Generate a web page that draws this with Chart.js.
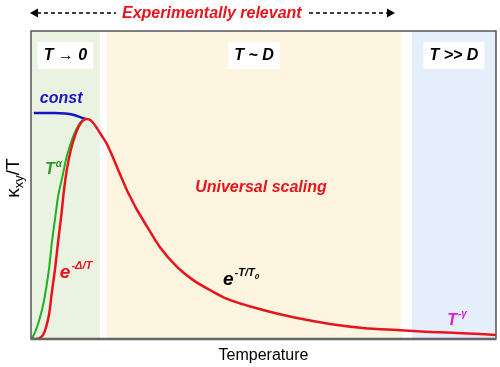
<!DOCTYPE html>
<html><head><meta charset="utf-8">
<script src="https://cdn.jsdelivr.net/npm/chart.js@4/dist/chart.umd.min.js"></script>
<style>html,body{margin:0;padding:0;background:#fff}canvas{display:block}</style>
</head><body>
<canvas id="c" width="500" height="367"></canvas>
<script>
// ---- data (x = temperature, y = kappa_xy/T, arbitrary units 0..100) ----
const regionNames = ["T \u2192 0", "T ~ D", "T >> D"];
const regionStart = [0, 16.3, 81.9];
const regionEnd   = [14.8, 79.6, 100];

const redT = [0,1.1,1.9,2.6,3.2,3.9,4.5,5.2,5.8,6.5,7.1,7.7,8.6,9.5,10.3,11.1,11.8,12.5,13.3,14.2,15.2,16.3,17.4,18.5,19.6,20.6,21.7,22.8,25.0,27.7,31.4,34.8,38.5,42.2,49.9,57.2,64.3,71.4,78.7,85.8,92.9,100];
const redK = [0,0,0.3,1.3,3.6,8.1,15.3,23.1,31.2,39.9,48.4,54.9,61.6,66.2,69.1,70.8,71.4,71.3,70.3,68.4,66.0,63.4,59.7,55.8,51.9,48.4,45.1,41.9,36.4,29.9,23.4,19.2,15.9,13.0,9.4,6.8,4.9,3.6,2.9,2.3,1.9,1.3];

const greenT = [0,0.6,1.3,1.9,2.6,3.2,3.9,4.5,5.2,5.8,6.7,7.5,8.4,9.3,10.2,11.0,11.8];
const greenK = [0,1.3,3.9,6.8,11.0,15.9,23.1,31.5,39.3,46.1,52.3,58.1,62.9,66.6,69.3,70.9,71.4];

const blueT = [0.6,3.0,5.2,7.3,8.8,10.1,11.0,11.8];
const blueK = [73.4,73.4,73.4,73.2,72.9,72.3,71.8,71.4];

const pts = (xs, ys) => xs.map((x, i) => ({x, y: ys[i]}));

const FONT = '"Liberation Sans", Arial, Helvetica, sans-serif';
const RED = '#e8141c', GREEN = '#2a9a1e', BLUE = '#1414c8', MAG = '#e01ad8';

function supText(ctx, base, sup, x, y, bSize, sSize, rise, color) {
  ctx.fillStyle = color;
  ctx.font = 'italic bold ' + bSize + 'px ' + FONT;
  ctx.textAlign = 'left'; ctx.textBaseline = 'alphabetic';
  ctx.fillText(base, x, y);
  const w = ctx.measureText(base).width;
  ctx.font = 'italic bold ' + sSize + 'px ' + FONT;
  ctx.fillText(sup, x + w + 1, y - rise);
  return x + w + 1 + ctx.measureText(sup).width;
}

function arrowHead(ctx, x, y, dir) {
  ctx.beginPath();
  ctx.moveTo(x, y);
  ctx.lineTo(x - dir * 8, y - 4.5);
  ctx.lineTo(x - dir * 8, y + 4.5);
  ctx.closePath();
  ctx.fill();
}

const decor = {
  id: 'decor',
  beforeDatasetsDraw(chart) {
    const {ctx, chartArea: a, scales: {x}} = chart;
    const fills = ['#eaf3e1', '#fdf5df', '#e5eefb'];
    ctx.save();
    regionNames.forEach((name, i) => {
      const x0 = x.getPixelForValue(regionStart[i]);
      const x1 = x.getPixelForValue(regionEnd[i]);
      ctx.fillStyle = fills[i];
      ctx.fillRect(x0, a.top, x1 - x0, a.bottom - a.top);
      ctx.font = 'italic bold 16px ' + FONT;
      const tw = ctx.measureText(name).width;
      const cx = (x0 + x1) / 2;
      ctx.fillStyle = '#ffffff';
      ctx.fillRect(cx - tw / 2 - 6, a.top + 11, tw + 12, 27);
      ctx.fillStyle = '#000';
      ctx.textAlign = 'center'; ctx.textBaseline = 'middle';
      ctx.fillText(name, cx, a.top + 25);
    });
    ctx.restore();
  },
  afterDatasetsDraw(chart) {
    const {ctx, chartArea: a, scales: {x, y}} = chart;
    ctx.save();
    // frame
    ctx.strokeStyle = '#555';
    ctx.lineWidth = 1.5;
    ctx.strokeRect(a.left, a.top, a.right - a.left, a.bottom - a.top);
    ctx.lineWidth = 2.5;
    ctx.strokeStyle = '#666';
    ctx.beginPath(); ctx.moveTo(a.left, a.bottom); ctx.lineTo(a.right, a.bottom); ctx.stroke();

    // annotations
    ctx.fillStyle = BLUE;
    ctx.font = 'italic bold 16px ' + FONT;
    ctx.textAlign = 'left'; ctx.textBaseline = 'alphabetic';
    ctx.fillText('const', x.getPixelForValue(1.9), y.getPixelForValue(76.6));

    supText(ctx, 'T', '\u03b1', x.getPixelForValue(3.0), y.getPixelForValue(53.6), 16, 10, 7, GREEN);
    supText(ctx, 'e', '-\u0394/T', x.getPixelForValue(6.2), y.getPixelForValue(19.8), 19, 11, 9, RED);

    ctx.fillStyle = RED;
    ctx.font = 'italic bold 16px ' + FONT;
    ctx.fillText('Universal scaling', x.getPixelForValue(35.3), y.getPixelForValue(47.7));

    const ex = x.getPixelForValue(41.3), ey = y.getPixelForValue(17.5);
    const endX = supText(ctx, 'e', '-T/T', ex, ey, 19, 11, 9, '#000');
    ctx.font = 'italic bold 8px ' + FONT;
    ctx.fillText('0', endX, ey - 6);

    supText(ctx, 'T', '-\u03b3', x.getPixelForValue(89.5), y.getPixelForValue(4.5), 16, 10, 8, MAG);

    // top arrow + title
    ctx.fillStyle = RED;
    ctx.font = 'italic bold 16px ' + FONT;
    ctx.textAlign = 'left'; ctx.textBaseline = 'middle';
    ctx.fillText('Experimentally relevant', 122, 14);
    ctx.strokeStyle = '#000'; ctx.fillStyle = '#000';
    ctx.lineWidth = 1.5;
    ctx.setLineDash([4, 3]);
    ctx.beginPath(); ctx.moveTo(37, 13); ctx.lineTo(116, 13); ctx.stroke();
    ctx.beginPath(); ctx.moveTo(309, 13); ctx.lineTo(388, 13); ctx.stroke();
    ctx.setLineDash([]);
    arrowHead(ctx, 30, 13, -1);
    arrowHead(ctx, 395, 13, 1);

    // axis titles
    ctx.fillStyle = '#000';
    ctx.font = '16px ' + FONT;
    ctx.textAlign = 'center'; ctx.textBaseline = 'alphabetic';
    ctx.fillText('Temperature', (a.left + a.right) / 2, 360);

    ctx.translate(19, 178);
    ctx.rotate(-Math.PI / 2);
    ctx.textAlign = 'left';
    ctx.font = '19px ' + FONT;
    const k = '\u03ba', sub = 'xy', tail = '/T';
    const wk = ctx.measureText(k).width, wt = ctx.measureText(tail).width;
    ctx.font = '13px ' + FONT;
    const ws = ctx.measureText(sub).width;
    let px = -(wk + ws + wt) / 2;
    ctx.font = '19px ' + FONT;
    ctx.fillText(k, px, 0); px += wk;
    ctx.font = '13px ' + FONT;
    ctx.fillText(sub, px, 4); px += ws;
    ctx.font = '19px ' + FONT;
    ctx.fillText(tail, px, 0);
    ctx.restore();
  }
};

new Chart(document.getElementById('c'), {
  type: 'scatter',
  data: {
    datasets: [
      {data: pts(redT, redK), borderColor: RED, borderWidth: 2.5},
      {data: pts(greenT, greenK), borderColor: '#22b01e', borderWidth: 2},
      {data: pts(blueT, blueK), borderColor: BLUE, borderWidth: 2.5}
    ].map(d => Object.assign(d, {showLine: true, pointRadius: 0, pointHoverRadius: 0, cubicInterpolationMode: 'monotone', fill: false}))
  },
  options: {
    responsive: false,
    animation: false,
    events: [],
    layout: {padding: {left: 31, right: 4, top: 31, bottom: 28}},
    plugins: {legend: {display: false}, tooltip: {enabled: false}},
    scales: {
      x: {type: 'linear', min: 0, max: 100, display: false},
      y: {type: 'linear', min: 0, max: 100, display: false}
    }
  },
  plugins: [decor]
});
</script>
</body></html>
